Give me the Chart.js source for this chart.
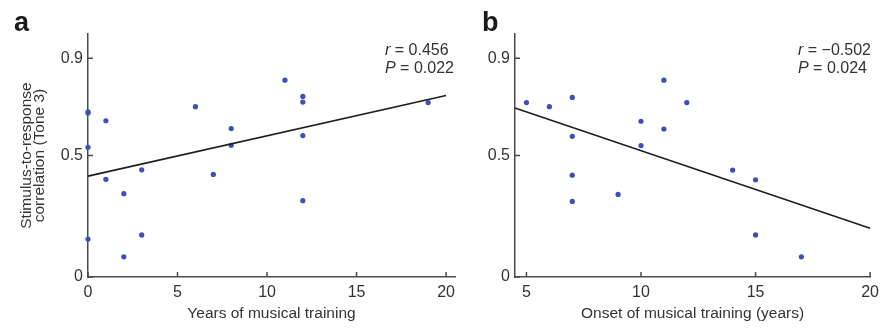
<!DOCTYPE html>
<html><head><meta charset="utf-8">
<script src="https://cdn.jsdelivr.net/npm/chart.js@4.4.1/dist/chart.umd.min.js"></script>
<style>
html,body{margin:0;padding:0;background:#fff;}
#wrap{position:relative;width:885px;height:329px;overflow:hidden;font-family:"Liberation Sans",Arial,sans-serif;color:#333;}
.cv{position:absolute;top:0;}
.lbl{position:absolute;font-weight:bold;font-size:27px;line-height:27px;color:#1a1a1a;}
.stat{position:absolute;font-size:16px;line-height:16px;color:#333;white-space:nowrap;}
</style></head><body>
<div id="wrap">
  <div class="cv" style="left:0;width:462px;height:329px"><canvas id="ca" width="462" height="329"></canvas></div>
  <div class="cv" style="left:462px;width:423px;height:329px"><canvas id="cb" width="423" height="329"></canvas></div>
  <div class="lbl" style="left:14px;top:9px">a</div>
  <div class="lbl" style="left:482px;top:9px">b</div>
  <div class="stat" style="left:385px;top:42px"><i>r</i> = 0.456</div>
  <div class="stat" style="left:385px;top:60px"><i>P</i> = 0.022</div>
  <div class="stat" style="left:798px;top:42px"><i>r</i> = −0.502</div>
  <div class="stat" style="left:798px;top:60px"><i>P</i> = 0.024</div>
</div>
<script>
// Panel a: years of musical training vs correlation
const yearsTraining = [0, 0, 0, 0, 1, 1, 2, 2, 3, 3, 6, 7, 8, 8, 11, 12, 12, 12, 12, 19];
const corrA = [0.68, 0.675, 0.534, 0.156, 0.643, 0.402, 0.343, 0.083, 0.441, 0.173, 0.701, 0.422, 0.611, 0.542, 0.810, 0.743, 0.720, 0.582, 0.314, 0.718];
// Panel b: onset age vs correlation
const onsetAge = [5, 6, 7, 7, 7, 7, 9, 10, 10, 11, 11, 12, 14, 15, 15, 17];
const corrB = [0.718, 0.701, 0.739, 0.579, 0.419, 0.311, 0.340, 0.641, 0.541, 0.810, 0.609, 0.718, 0.440, 0.400, 0.173, 0.083];
// Regression lines (endpoints)
const fitAx = [0, 20];
const fitAy = [0.415, 0.747];
const fitBx = [4.5, 20];
const fitBy = [0.695, 0.201];
// Ticks
const yTicks = [0, 0.5, 0.9];
const xTicksA = [0, 5, 10, 15, 20];
const xTicksB = [5, 10, 15, 20];

const FAM = '"Liberation Sans", Arial, sans-serif';
const TXT = '#333';
const AX = '#4a4a4a';
const DOT = '#3a4fb8';

const inwardTicks = {
  id: 'inwardTicks',
  afterDraw(chart) {
    const ctx = chart.ctx, xs = chart.scales.x, ys = chart.scales.y;
    ctx.save();
    ctx.strokeStyle = AX; ctx.lineWidth = 1.5;
    ctx.beginPath();
    xs.ticks.forEach(t => { const p = xs.getPixelForValue(t.value); ctx.moveTo(p, ys.bottom); ctx.lineTo(p, ys.bottom - 5); });
    ys.ticks.forEach(t => { const p = ys.getPixelForValue(t.value); ctx.moveTo(xs.left, p); ctx.lineTo(xs.left + 5, p); });
    ctx.stroke();
    ctx.restore();
  }
};

function makeChart(id, xs, ys, fx, fy, xmin, xmax, xticks, xtitle, yw, rightPad, showYTitle) {
  return new Chart(document.getElementById(id), {
    type: 'scatter',
    data: {
      datasets: [
        { type: 'line', data: fx.map((x, i) => ({ x, y: fy[i] })), borderColor: '#1e1e1e', borderWidth: 1.6, pointRadius: 0, fill: false, clip: false },
        { data: xs.map((x, i) => ({ x, y: ys[i] })), backgroundColor: DOT, borderColor: DOT, pointRadius: 2.6, borderWidth: 0, clip: false }
      ]
    },
    options: {
      responsive: false, animation: false, devicePixelRatio: 1,
      layout: { padding: { left: 0, right: rightPad, top: 34, bottom: 0 } },
      plugins: { legend: { display: false }, tooltip: { enabled: false } },
      scales: {
        x: {
          type: 'linear', min: xmin, max: xmax,
          afterBuildTicks: s => { s.ticks = xticks.map(v => ({ value: v })); },
          afterFit: s => { s.height = 52; },
          grid: { display: false, drawTicks: false },
          border: { display: true, color: AX, width: 1.5 },
          ticks: { font: { size: 16, family: FAM }, color: TXT, padding: 6, maxRotation: 0, autoSkip: false },
          title: { display: true, text: xtitle, font: { size: 15.5, family: FAM }, color: TXT, padding: { top: 0, bottom: 6 } }
        },
        y: {
          type: 'linear', min: 0, max: 1.0,
          afterBuildTicks: s => { s.ticks = yTicks.map(v => ({ value: v })); },
          afterFit: s => { s.width = yw; },
          grid: { display: false, drawTicks: false },
          border: { display: true, color: AX, width: 1.5 },
          ticks: { font: { size: 16, family: FAM }, color: TXT, padding: 5, callback: v => String(v) },
          title: { display: showYTitle, text: ['Stimulus-to-response', 'correlation (Tone 3)'], font: { size: 15.5, family: FAM, lineHeight: '13px' }, color: TXT, padding: { top: 20, bottom: 0 } }
        }
      }
    },
    plugins: [inwardTicks]
  });
}

makeChart('ca', yearsTraining, corrA, fitAx, fitAy, 0, 20.5, xTicksA, 'Years of musical training', 88, 7, true);
makeChart('cb', onsetAge, corrB, fitBx, fitBy, 4.5, 20, xTicksB, 'Onset of musical training (years)', 53, 12, false);
</script>
</body></html>
